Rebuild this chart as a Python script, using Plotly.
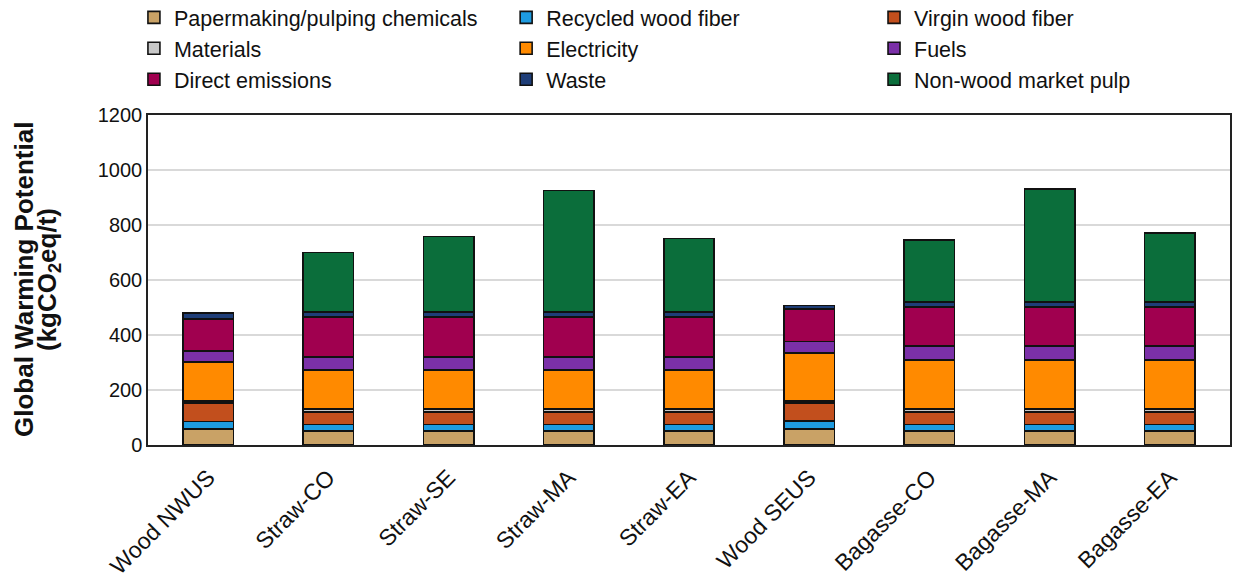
import plotly.graph_objects as go

# Pulp/paper production scenarios
categories = ["Wood NWUS", "Straw-CO", "Straw-SE", "Straw-MA", "Straw-EA",
              "Wood SEUS", "Bagasse-CO", "Bagasse-MA", "Bagasse-EA"]

# Contributions to global warming potential (kgCO2eq/t)
chemicals = [58, 50, 50, 50, 50, 59, 50, 50, 50]
recycled_fiber = [28, 25, 25, 25, 25, 28, 25, 25, 25]
virgin_fiber = [67, 44, 44, 44, 44, 66, 44, 44, 44]
materials = [8, 12, 12, 12, 12, 8, 12, 12, 12]
electricity = [140, 142, 142, 142, 142, 174, 178, 178, 178]
fuels = [40, 48, 48, 48, 48, 42, 52, 52, 52]
direct_emissions = [118, 144, 144, 144, 144, 118, 140, 140, 140]
waste = [20, 18, 18, 18, 18, 12, 18, 18, 18]
nonwood_pulp = [0, 217, 275, 442, 268, 0, 226, 412, 252]

series = [
    ("Papermaking/pulping chemicals", chemicals, "#C9A266", "legend"),
    ("Recycled wood fiber", recycled_fiber, "#1E9BE0", "legend2"),
    ("Virgin wood fiber", virgin_fiber, "#C24F1D", "legend3"),
    ("Materials", materials, "#C8C8C8", "legend"),
    ("Electricity", electricity, "#FF8A00", "legend2"),
    ("Fuels", fuels, "#7B30A8", "legend3"),
    ("Direct emissions", direct_emissions, "#A0004F", "legend"),
    ("Waste", waste, "#1F3E78", "legend2"),
    ("Non-wood market pulp", nonwood_pulp, "#0B6E3B", "legend3"),
]

FONT = "Liberation Sans, Arial, sans-serif"

fig = go.Figure()
for name, vals, color, leg in series:
    fig.add_trace(go.Bar(
        x=categories, y=vals, name=name, legend=leg,
        marker=dict(color=color, line=dict(color="#111111", width=1.6)),
    ))

# three legend columns above the plot
legend_style = dict(
    orientation="v", traceorder="normal", yanchor="top", xanchor="left",
    font=dict(family=FONT, size=21.5, color="#111111"),
    bgcolor="rgba(0,0,0,0)", tracegroupgap=0, itemwidth=30,
    xref="paper", yref="paper", y=1.358,
)

# two-line y-axis title, placed as rotated text left of the tick labels
title_lines = [("Global Warming Potential", -124),
               ("(kgCO<sub>2</sub>eq/t)", -100)]
annotations = [
    dict(text=f"<b>{t}</b>", x=0, y=0.5, xref="paper", yref="paper",
         xanchor="center", yanchor="middle", xshift=dx, textangle=-90,
         showarrow=False, font=dict(family=FONT, size=26, color="#111111"))
    for t, dx in title_lines
]

fig.update_layout(
    width=1233, height=584,
    barmode="stack", bargap=0.58,
    plot_bgcolor="white", paper_bgcolor="white",
    margin=dict(l=148, r=3, t=115, b=139, autoexpand=False),
    font=dict(family=FONT, size=20, color="#111111"),
    legend=dict(**legend_style, x=-0.013),
    legend2=dict(**legend_style, x=0.331),
    legend3=dict(**legend_style, x=0.671),
    annotations=annotations,
    yaxis=dict(
        range=[0, 1200], dtick=200,
        showgrid=True, gridcolor="#D9D9D9", gridwidth=1.5,
        showline=True, linecolor="#222222", linewidth=1.5, mirror=True,
        ticks="", tickfont=dict(size=20),
    ),
    xaxis=dict(
        showline=True, linecolor="#222222", linewidth=2, mirror=True,
        ticks="outside", ticklen=8, tickcolor="rgba(0,0,0,0)",
        tickangle=-45, tickfont=dict(size=23),
    ),
)

fig.write_html("out.html")
